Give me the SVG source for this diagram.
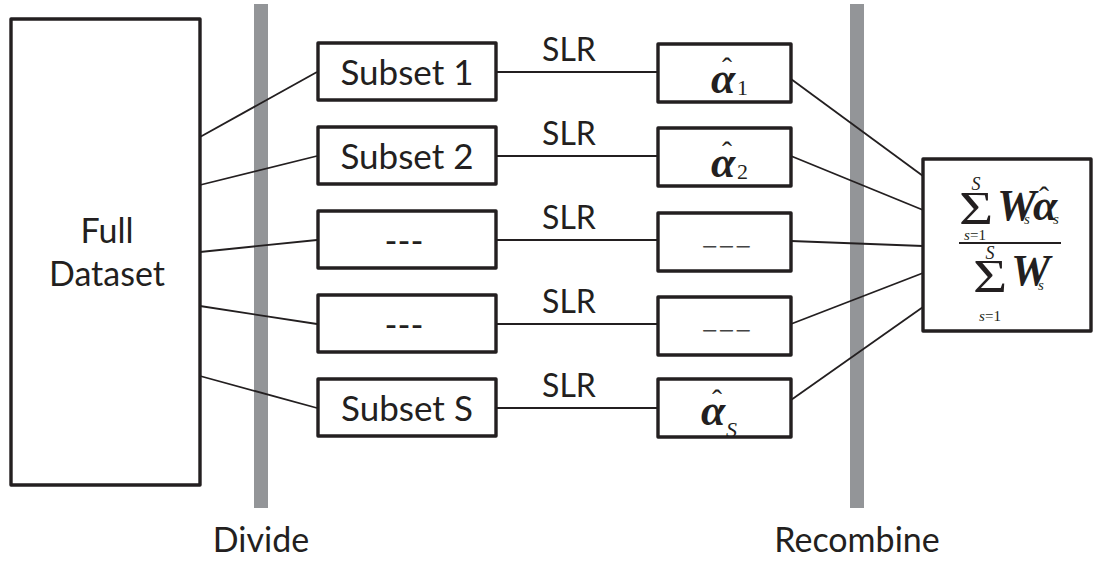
<svg xmlns="http://www.w3.org/2000/svg" width="1104" height="573" viewBox="0 0 1104 573">
<style>
.box{fill:#fff;stroke:#231f20;stroke-width:3.4;stroke-linejoin:round}
.bar{fill:#939598}
.wire{stroke:#231f20;stroke-width:1.8;fill:none}
.lbl{font-family:Lato,"Open Sans","Liberation Sans",sans-serif;font-size:34px;fill:#231f20;text-anchor:middle}
.big{font-size:35px}
.slr{font-size:32px}
.m{font-family:"Liberation Serif","Times New Roman",serif;fill:#231f20}
.a{font-weight:bold;font-style:italic;font-size:44px}
.hat{font-size:30px;text-anchor:middle}
.sub{font-size:22px}
.it{font-style:italic}
.dash{font-size:28px;letter-spacing:1px;fill:#444}
.sum{font-size:47px;text-anchor:middle}
</style>

<!-- stage separators -->
<g id="bars">
  <rect class="bar" x="254" y="4" width="14" height="504"/>
  <rect class="bar" x="850" y="4" width="14" height="504"/>
</g>

<!-- connectors -->
<g id="connectors">
  <path class="wire" d="M200,137 L317,72"/>
  <path class="wire" d="M200,185 L317,156"/>
  <path class="wire" d="M200,252 L317,240"/>
  <path class="wire" d="M200,306 L317,324"/>
  <path class="wire" d="M200,376 L317,408"/>
  <path class="wire" d="M496,72 H658"/>
  <path class="wire" d="M496,156 H658"/>
  <path class="wire" d="M496,240 H658"/>
  <path class="wire" d="M496,324 H658"/>
  <path class="wire" d="M496,408 H658"/>
  <path class="wire" d="M791,79 L923,176"/>
  <path class="wire" d="M791,156 L923,210"/>
  <path class="wire" d="M791,241 L923,246"/>
  <path class="wire" d="M791,324 L923,273"/>
  <path class="wire" d="M791,400 L923,307"/>
  <text class="lbl slr" x="569" y="61">SLR</text>
  <text class="lbl slr" x="569" y="145">SLR</text>
  <text class="lbl slr" x="569" y="229">SLR</text>
  <text class="lbl slr" x="569" y="313">SLR</text>
  <text class="lbl slr" x="569" y="397">SLR</text>
</g>

<g id="full-dataset">
  <rect class="box" x="11" y="19" width="189" height="466"/>
  <text class="lbl" x="107" y="243">Full</text>
  <text class="lbl" x="107" y="286">Dataset</text>
</g>

<g id="subset-1">
  <rect class="box" x="318" y="43" width="178" height="57"/>
  <text class="lbl big" x="407" y="85">Subset 1</text>
</g>
<g id="subset-2">
  <rect class="box" x="318" y="127" width="178" height="57"/>
  <text class="lbl big" x="407" y="169">Subset 2</text>
</g>
<g id="subset-3">
  <rect class="box" x="318" y="211" width="178" height="57"/>
  <text class="lbl big" x="404" y="253">---</text>
</g>
<g id="subset-4">
  <rect class="box" x="318" y="295" width="178" height="57"/>
  <text class="lbl big" x="404" y="337">---</text>
</g>
<g id="subset-s">
  <rect class="box" x="318" y="379" width="178" height="57"/>
  <text class="lbl big" x="407" y="421">Subset S</text>
</g>

<g id="alpha-1">
  <rect class="box" x="658" y="44" width="133" height="58"/>
  <text class="m hat" x="727" y="78">ˆ</text>
  <text class="m a" x="711" y="93">α</text>
  <text class="m sub" x="737" y="95">1</text>
</g>
<g id="alpha-2">
  <rect class="box" x="658" y="128" width="133" height="58"/>
  <text class="m hat" x="727" y="162">ˆ</text>
  <text class="m a" x="711" y="177">α</text>
  <text class="m sub" x="737" y="179">2</text>
</g>
<g id="alpha-3">
  <rect class="box" x="658" y="213" width="133" height="58"/>
  <text class="m dash" x="702" y="256">−−−</text>
</g>
<g id="alpha-4">
  <rect class="box" x="658" y="297" width="133" height="58"/>
  <text class="m dash" x="702" y="340">−−−</text>
</g>
<g id="alpha-s">
  <rect class="box" x="658" y="379" width="133" height="58"/>
  <text class="m hat" x="717" y="410">ˆ</text>
  <text class="m a" x="701" y="425">α</text>
  <text class="m sub it" x="726" y="437">S</text>
</g>

<!-- weighted recombination -->
<g id="combined">
  <rect class="box" x="923" y="159" width="168" height="172"/>
  <text class="m it" x="976" y="190" font-size="18" text-anchor="middle">S</text>
  <text class="m sum" transform="translate(976,224) scale(1.25,1)">Σ</text>
  <text class="m a" x="997" y="220" font-size="26">W</text>
  <text class="m it" x="1024" y="224" font-size="15">s</text>
  <text class="m hat" x="1044" y="207" font-size="22">ˆ</text>
  <text class="m a" x="1033" y="220" font-size="29">α</text>
  <text class="m it" x="1053" y="224" font-size="15">s</text>
  <text class="m" x="975" y="240" font-size="15" text-anchor="middle"><tspan font-style="italic">s</tspan>=1</text>
  <path class="wire" d="M959,243 H1061" stroke-width="1.5"/>
  <text class="m it" x="990" y="259" font-size="18" text-anchor="middle">S</text>
  <text class="m sum" transform="translate(990,292) scale(1.25,1)">Σ</text>
  <text class="m a" x="1011" y="285" font-size="26">W</text>
  <text class="m it" x="1038" y="290" font-size="15">s</text>
  <text class="m" x="990" y="321" font-size="15" text-anchor="middle"><tspan font-style="italic">s</tspan>=1</text>
</g>

<g id="stage-labels">
  <text class="lbl" x="261" y="552">Divide</text>
  <text class="lbl" x="857" y="552">Recombine</text>
</g>
</svg>
